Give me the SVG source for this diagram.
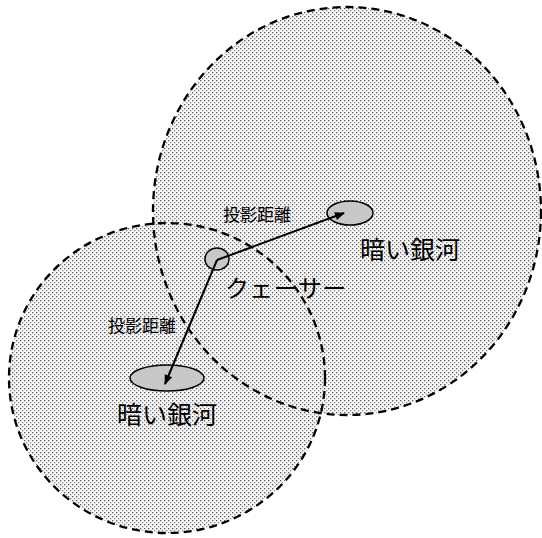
<svg xmlns="http://www.w3.org/2000/svg" width="542" height="538" viewBox="0 0 542 538">
<style>
.halo{fill:url(#dots);stroke:none}
.rim{fill:none;stroke:#000;stroke-width:2.3;stroke-dasharray:8 5}
.gal{fill:#c8c8c8;stroke:#000;stroke-width:1.5}
.ray{stroke:#000;stroke-width:2;fill:none;marker-end:url(#ah)}
.t{font-family:"Noto Sans CJK JP","Noto Sans CJK SC",sans-serif;fill:#000}
</style>
<defs>
<pattern id="dots" width="4" height="4" patternUnits="userSpaceOnUse">
<rect width="4" height="4" fill="#f8f8f8"/>
<rect x="0" y="0" width="1.3" height="1.3" fill="#5a5a5a"/>
<rect x="2" y="2" width="1.3" height="1.3" fill="#8a8a8a"/>
</pattern>
<marker id="ah" viewBox="0 0 10 10" refX="9" refY="5" markerWidth="6" markerHeight="5" orient="auto" markerUnits="strokeWidth">
<path d="M0,1 L10,5 L0,9 Z" fill="#000"/>
</marker>
</defs>
<rect width="542" height="538" fill="#fff"/>
<g id="halo-big">
<ellipse class="halo" cx="347" cy="211" rx="194" ry="204"/>
</g>
<g id="halo-small">
<ellipse class="halo" cx="167" cy="378" rx="158" ry="155"/>
</g>
<g id="halo-rims">
<ellipse class="rim" cx="347" cy="211" rx="194" ry="204"/>
<ellipse class="rim" cx="167" cy="378" rx="158" ry="155"/>
</g>
<g id="galaxy-top">
<ellipse class="gal" cx="350" cy="213" rx="23" ry="12"/>
<text class="t" x="360" y="259" font-size="25">暗い銀河</text>
</g>
<g id="galaxy-bottom">
<ellipse class="gal" cx="167" cy="378" rx="37" ry="13"/>
<text class="t" x="117" y="424" font-size="25">暗い銀河</text>
</g>
<g id="quasar">
<ellipse class="gal" cx="217" cy="259" rx="12" ry="11" fill="#b0b0b0"/>
<text class="t" x="225" y="297" font-size="24" letter-spacing="0.5">クェーサー</text>
</g>
<g id="connectors">
<line class="ray" x1="217" y1="260" x2="344" y2="213"/>
<line class="ray" x1="217" y1="260" x2="165" y2="384"/>
<text class="t" x="223" y="221" font-size="17">投影距離</text>
<text class="t" x="108" y="332" font-size="17">投影距離</text>
</g>
</svg>
